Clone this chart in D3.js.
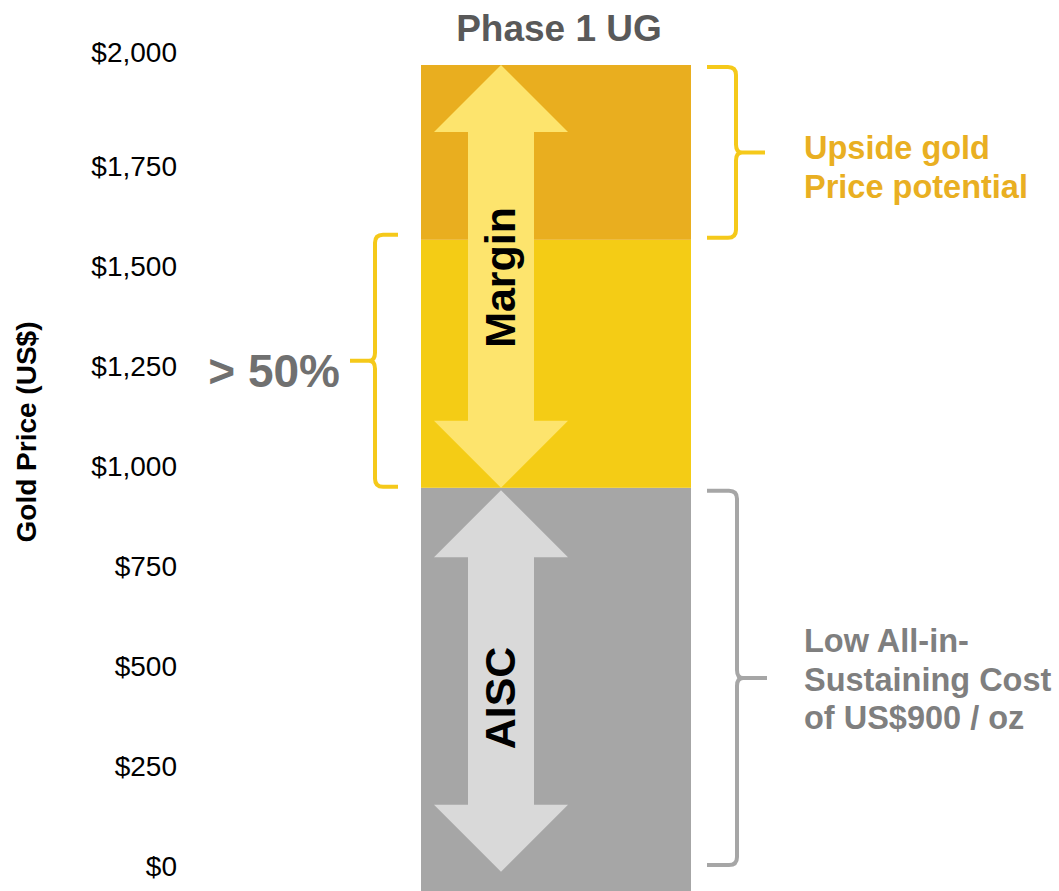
<!DOCTYPE html>
<html>
<head>
<meta charset="utf-8">
<script src="https://cdn.jsdelivr.net/npm/d3@7"></script>
<style>
  body { margin: 0; background: #fff; }
  svg text { font-family: "Liberation Sans", Arial, sans-serif; }
</style>
</head>
<body>
<svg id="chart"></svg>
<script>
// data (US$ / oz)
const categories = ["Phase 1 UG"];
const segNames = ["AISC", "Margin", "Upside"];
const segStarts = [-60, 948, 1568];
const segEnds = [948, 1568, 2005];
const segColors = ["#a6a6a6", "#f4cc15", "#e9ae1f"];
const tickValues = [0, 250, 500, 750, 1000, 1250, 1500, 1750, 2000];
const arrowLabels = ["Margin", "AISC"];
const arrowFrom = [948, -12];
const arrowTo = [2005, 942];
const arrowColors = ["#fde46d", "#d9d9d9"];

const width = 1059, height = 891;

const svg = d3.select("#chart")
    .attr("width", width)
    .attr("height", height);

const y = d3.scaleLinear().domain([0, 2000]).range([867, 67]);
const x = d3.scaleBand().domain(categories).range([421, 691]).padding(0);

// stacked column
const segs = segNames.map((n, i) => ({ name: n, y0: segStarts[i], y1: segEnds[i], color: segColors[i] }));
svg.append("g").selectAll("rect")
    .data(segs)
    .join("rect")
    .attr("x", x(categories[0]))
    .attr("width", x.bandwidth())
    .attr("y", d => y(d.y1))
    .attr("height", d => y(d.y0) - y(d.y1))
    .attr("fill", d => d.color);

// y axis (labels only)
const axis = svg.append("g")
    .attr("transform", "translate(177,0)")
    .call(d3.axisLeft(y).tickValues(tickValues).tickSize(0).tickPadding(0)
        .tickFormat(d => "$" + d3.format(",")(d)));
axis.select(".domain").remove();
axis.selectAll("text")
    .attr("font-size", 28)
    .attr("fill", "#000")
    .style("font-family", "'Liberation Sans', Arial, sans-serif")
    .attr("dy", d => d === 2000 ? "-0.2em" : "0.32em");

svg.append("text")
    .attr("transform", "translate(36,432) rotate(-90)")
    .attr("text-anchor", "middle")
    .attr("font-size", 28)
    .attr("font-weight", "bold")
    .attr("fill", "#000")
    .text("Gold Price (US$)");

// title
svg.append("text")
    .attr("x", x(categories[0]) + x.bandwidth() / 2 + 3)
    .attr("y", 41)
    .attr("text-anchor", "middle")
    .attr("font-size", 37)
    .attr("font-weight", "bold")
    .attr("fill", "#595959")
    .text(categories[0]);

// double headed block arrows
const cx = x(categories[0]) + 80;
function blockArrow(yTop, yBot) {
    const head = 67, hw = 67, sw = 33;
    return `M${cx},${yTop} L${cx + hw},${yTop + head} L${cx + sw},${yTop + head}
            L${cx + sw},${yBot - head} L${cx + hw},${yBot - head} L${cx},${yBot}
            L${cx - hw},${yBot - head} L${cx - sw},${yBot - head} L${cx - sw},${yTop + head}
            L${cx - hw},${yTop + head} Z`;
}
const arrows = arrowLabels.map((l, i) => ({ label: l, a: arrowFrom[i], b: arrowTo[i], color: arrowColors[i] }));
const ag = svg.append("g");
ag.selectAll("path")
    .data(arrows)
    .join("path")
    .attr("d", d => blockArrow(y(d.b), y(d.a)))
    .attr("fill", d => d.color);
// the AISC label sits a little below the middle of its arrow
ag.selectAll("text")
    .data(arrows)
    .join("text")
    .attr("transform", d => `translate(${cx + 14},${(y(d.a) + y(d.b)) / 2 + (d.label === "AISC" ? 17 : 1)}) rotate(-90)`)
    .attr("text-anchor", "middle")
    .attr("font-size", 43)
    .attr("font-weight", "bold")
    .attr("fill", "#000")
    .text(d => d.label);

// curly braces
function brace(xe, xv, xt, y0, y1) {
    const ym = (y0 + y1) / 2;
    const s = xv > xe ? 1 : -1;
    const r = 8;
    return `M${xe},${y0} L${xv - s * r},${y0} Q${xv},${y0} ${xv},${y0 + r}
            L${xv},${ym - r} Q${xv},${ym} ${xv + s * 6},${ym} L${xt},${ym}
            M${xv + s * 6},${ym} Q${xv},${ym} ${xv},${ym + r}
            L${xv},${y1 - r} Q${xv},${y1} ${xv - s * r},${y1} L${xe},${y1}`;
}
const xr = x(categories[0]) + x.bandwidth();
const xl = x(categories[0]);
const bg = svg.append("g").attr("fill", "none").attr("stroke-width", 4);
bg.append("path")
    .attr("d", brace(xr + 16, xr + 45, xr + 74, y(segEnds[2]) + 2, y(segStarts[2]) - 2))
    .attr("stroke", "#f5c91a");
bg.append("path")
    .attr("d", brace(xr + 16, xr + 46, xr + 76, y(segEnds[0]) + 3, y(0) - 2))
    .attr("stroke", "#a6a6a6");
bg.append("path")
    .attr("d", brace(xl - 23, xl - 46, xl - 71, y(segEnds[1]) - 5, y(segStarts[1]) - 1))
    .attr("stroke", "#f5c91a");

// annotations
svg.append("text")
    .attr("x", 340).attr("y", 387)
    .attr("text-anchor", "end")
    .attr("font-size", 46)
    .attr("font-weight", "bold")
    .attr("fill", "#707070")
    .text("> 50%");

const up = svg.append("text")
    .attr("font-size", 32.5).attr("font-weight", "bold").attr("fill", "#e9af22");
["Upside gold", "Price potential"].forEach((t, i) =>
    up.append("tspan").attr("x", 804).attr("y", 159 + i * 39).text(t));

const low = svg.append("text")
    .attr("font-size", 32.5).attr("font-weight", "bold").attr("fill", "#7f7f7f");
["Low All-in-", "Sustaining Cost", "of US$900 / oz"].forEach((t, i) =>
    low.append("tspan").attr("x", 804).attr("y", 652 + i * 38.5).text(t));
</script>
</body>
</html>
